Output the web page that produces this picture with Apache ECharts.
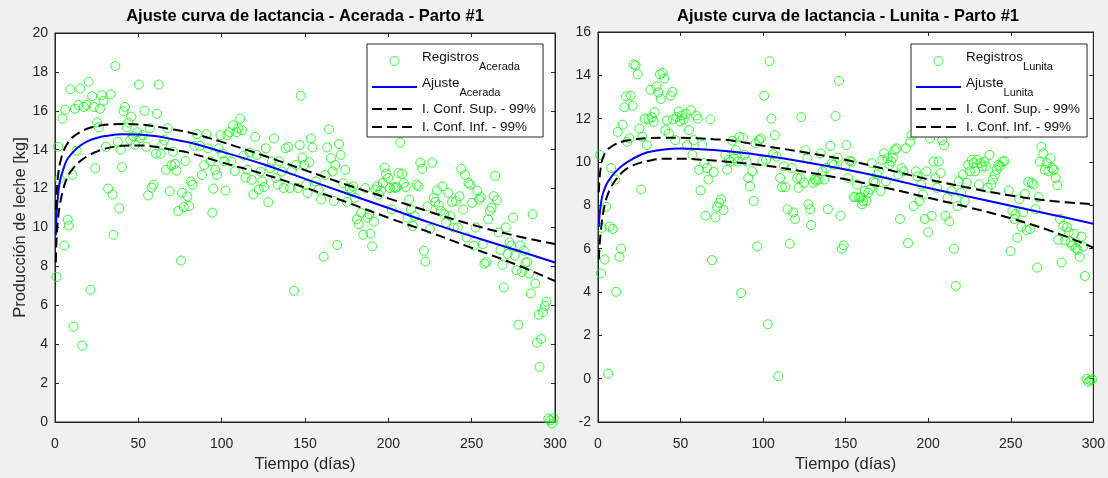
<!DOCTYPE html>
<html>
<head>
<meta charset="utf-8">
<script src="https://cdn.jsdelivr.net/npm/echarts@6/dist/echarts.min.js"></script>
<style>
html,body{margin:0;padding:0;background:#f0f0f0;}
#chart{width:1108px;height:478px;}
</style>
</head>
<body>
<div id="chart"></div>
<script>
// ---------------- DATA ----------------
const xTicks = [0, 50, 100, 150, 200, 250, 300];

const acDays = [0.9,1.9,2.8,4.5,5.6,6.2,7.7,8.3,9.2,10.5,11.1,12,13,14.1,15.2,16.3,17.3,19,20.1,21.2,22.3,23.3,24.2,25.3,26.3,27,28,29.1,30.6,31.9,33.4,34.5,35.1,36.2,37.7,38.5,39.4,40.2,41.1,42,43,44.1,45.2,45.8,46.9,48,49.4,50.3,51.2,52.7,53.7,54.8,55.9,57,58,59.1,60.6,61.2,62.3,63.4,64.4,65.5,66.6,67.6,68.9,69.8,70.8,71.9,72.9,74,75.6,76.2,77.3,78.3,79.4,80.5,81.5,82.6,83.7,85.2,86.9,88.2,89.5,90.8,91.8,93.3,94.4,95,96.1,97.2,98.2,99.3,100.4,101.5,102.3,103.4,104.7,105.7,106.8,107.9,109,110,111.1,112.2,113.2,114.3,115.4,116.9,118,119,120.1,121.1,122.2,123.3,124.4,125.4,126.5,128,129.1,130.1,131.4,132.5,133.6,134.6,136.1,137.2,138.3,140,141,142.1,143.4,144.7,145.8,146.8,147.5,148.5,149.6,150.7,151.5,152.6,153.5,154.5,156.5,158.2,159.7,161.2,162.2,163.3,164.4,165.5,166.5,167.4,168.2,169.3,170.4,171.4,172.9,174.2,175.3,176.8,177.9,178.9,180,181.1,182.2,183.6,184.9,186.2,187.5,188.6,189.2,190.3,191.4,192.2,193.3,194.3,195.6,196.7,197.8,198.6,199.9,201,202.1,203.1,204.2,205,206.1,207.2,208.3,209.3,210.4,211.5,212.5,213.6,214.7,215.8,217,218.1,219.2,220.3,221.3,222.2,223.5,225,226.3,227.3,228.2,229.2,230.3,231.4,232.5,233.5,234.6,235.9,237.2,238.2,239.3,240.6,241.7,242.7,243.8,244.9,246,247,248.1,249.1,250.2,251.3,252.4,253.4,254.5,255.5,256.6,257.7,258.8,259.8,260.9,261.9,263.1,264.1,265.2,266.3,267.3,268.4,269.3,270.5,271.6,272.7,273.7,274.8,275.9,276.9,278,279.1,280.2,281.3,282.3,283.4,284.5,285.5,286.6,288.1,289.2,290.2,290.7,291.7,292.8,293.9,294.9,296,297.1,298.2,299.2];
const acYield = [7.46,14.15,12.5,15.6,9.07,16.05,10.4,10.1,17.1,12.7,4.9,16.1,13.95,16.3,17.15,3.93,16.2,16.3,17.5,6.8,16.75,16.2,13.05,15.4,15.15,16.1,16.8,16.5,14.15,12.0,16.85,11.7,9.63,18.3,14.4,10.98,14.0,13.1,15.97,16.2,15.15,15.4,14.5,15.7,14.7,14.25,14.9,17.35,14.6,14.75,16.0,14.15,11.65,15.1,12.05,12.2,13.8,15.85,17.35,13.78,14.25,14.5,12.97,15.1,11.86,13.2,13.9,13.27,12.93,10.85,8.3,11.78,11.05,13.42,11.6,11.1,12.37,12.2,14.2,14.8,14.2,12.7,13.2,14.8,14.07,13.4,10.76,12.0,12.97,12.7,14.07,14.75,13.8,13.4,11.9,14.75,14.9,13.4,15.25,12.9,14.9,15.1,15.6,15.0,13.7,12.57,12.97,13.85,12.45,11.7,14.66,13.73,11.95,12.88,12.37,12.08,14.07,11.3,13.05,13.4,14.58,12.54,12.2,13.4,12.88,12.03,14.07,14.15,12.03,12.93,6.75,13.22,12.03,14.24,16.78,13.6,13.22,12.2,11.78,13.36,14.58,14.12,12.37,11.95,11.44,8.5,12.7,14.12,15.05,13.56,12.88,11.37,13.22,9.1,14.29,13.73,12.27,12.97,11.32,12.03,11.86,12.12,11.53,10.42,10.17,10.76,9.63,12.03,10.51,10.68,9.69,9.03,10.3,11.95,12.12,11.69,11.9,12.29,13.08,12.76,12.54,12.03,10.93,12.07,12.03,12.07,12.8,14.37,12.76,12.29,12.08,10.51,11.44,10.93,10.08,10.59,12.2,12.12,13.34,13.02,8.81,8.25,11.08,9.92,13.34,11.53,11.32,11.9,11.14,10.85,12.12,10.68,10.25,11.78,10.59,11.32,10.0,11.36,10.0,11.61,13.02,10.93,12.71,9.49,12.29,12.2,11.27,9.07,10.0,11.9,11.44,11.56,9.15,8.14,8.22,10.42,10.85,11.02,11.61,12.66,11.4,9.75,8.85,8.08,6.92,10.0,8.64,9.24,9.07,10.51,8.56,7.8,5.0,9.07,7.71,8.81,8.19,8.22,7.63,6.61,10.68,7.12,4.07,5.51,2.83,4.27,5.64,5.97,6.19,0.17,0.08,-0.08,0.2];

const luDays = [1.2,1.8,2.2,4,5,6.1,7,8,9,10.4,11,11.9,13,14,15,16,16.9,17.7,19,19.8,21,21.5,22.8,24,25.1,26.2,26.8,28.3,29.6,30.5,31.8,32.6,33.7,34.3,35.4,36.5,37.5,38,39.1,40.1,40.8,41.8,42.9,44,45.1,45.5,46.8,47.6,48.9,49.7,50.8,51.9,53.1,54,55.1,56.2,57.2,57.9,59.4,60.4,61.1,62.1,63.2,64.3,65.1,66,66.9,68.1,69,70.1,71.1,72.2,73.4,74.5,76,77.1,78.2,79.2,80.3,81.4,82.4,83.5,84.6,85.6,86.7,87.8,88.9,90,91,92.1,93.4,94.3,95.4,96.4,97.5,98.6,99.6,100.7,101.8,102.8,103.9,105,106,107.1,108.2,109.2,110.3,111.4,112.5,113.5,114.8,116.1,117.4,118.3,119.4,120.6,121.5,122.6,123.1,124.7,125.7,126.8,127.4,128.5,129.1,130.2,131.3,132.3,133.6,134.9,136,137,138.1,139.2,140.7,141.8,142.8,143.9,145.2,146,146.9,147.7,148.8,149.9,150.5,151.6,152.6,153.7,154.8,155.9,156.9,158,159.1,159.9,160.5,161.6,162.7,163.7,164.8,165.8,166.9,168,169,170.1,171.2,172.2,173.3,174.4,175.4,176.5,177.6,178.6,179.7,180.8,181.8,182.9,183.9,185,186.5,187.8,189.1,189.9,191.2,192.5,193.6,194.7,195.7,196.8,197.9,198.9,200,201.1,202.1,203.2,204.3,205.3,206.4,207.5,208.5,209.6,210.4,211.7,212.8,214.1,215.6,216.7,217.8,218.6,219.9,221,222.1,223.2,224.2,225.3,226.4,227.5,228.5,229.6,230.7,231.7,232.8,233.9,234.9,236,237.1,238.2,239.2,240.3,241.4,242.5,243.5,245,246.1,247.2,248.8,249.9,251,252.1,252.9,254,255.1,256.4,257.4,258.5,259.6,260.6,261.7,262.8,263.9,264.9,266,266.9,267.5,268.6,269.7,270.7,271.8,272.9,274,275,276.1,277.2,278.2,278.7,279.8,280.8,281.9,283,284,285.1,286.2,287.2,288.3,289.4,290.4,291.7,292.8,293.9,294.9,295.8,296.9,298,299.2];
const luYield = [10.33,4.86,6.96,5.5,7.93,0.23,7.02,9.72,6.91,9.19,4.01,11.39,5.62,6.0,11.72,12.53,13.03,10.93,11.09,13.06,12.6,14.5,14.46,14.05,11.54,8.73,11.16,12.0,10.78,11.97,13.33,12.07,11.85,12.3,13.49,13.21,14.05,12.91,14.12,13.85,11.47,11.92,11.31,13.06,13.24,11.97,11.01,12.07,12.33,11.88,12.15,11.97,12.23,10.78,11.47,12.38,10.33,11.01,12.15,12.0,9.64,8.69,10.78,9.95,7.52,9.72,9.19,11.97,5.47,9.54,7.44,7.93,8.12,8.28,7.78,10.33,9.64,10.1,10.02,10.98,10.17,10.55,10.02,11.16,3.95,11.12,10.33,10.02,9.26,8.88,9.57,8.2,10.86,6.1,11.01,11.09,10.05,13.06,10.1,2.51,14.65,12.0,10.36,11.24,10.25,0.11,9.26,8.84,9.8,8.84,7.82,6.23,9.72,7.67,7.37,9.26,8.81,9.26,12.07,9.04,10.55,10.17,8.05,7.82,7.09,9.04,9.19,9.14,9.19,10.4,9.57,9.19,9.72,7.82,10.74,9.95,9.87,12.12,10.2,13.74,7.52,6.0,6.15,9.84,10.78,9.26,10.05,10.02,8.38,8.38,8.96,8.35,8.38,8.05,8.2,8.66,8.2,8.58,8.73,9.95,9.11,9.04,9.42,9.57,8.66,10.1,10.4,9.11,10.17,9.87,10.02,10.2,10.55,10.63,9.42,7.37,9.72,9.57,10.63,6.26,10.93,11.24,7.97,9.57,9.34,8.2,8.96,8.5,7.37,9.57,6.76,11.09,7.52,10.02,9.26,8.81,10.02,9.49,11.01,10.78,7.52,8.35,7.26,8.66,6.0,4.28,7.97,9.11,8.58,9.42,8.2,9.04,9.87,9.57,10.1,9.95,9.57,10.1,8.96,9.95,9.8,10.02,9.8,8.81,10.33,8.96,9.19,9.42,9.64,9.87,9.8,10.02,10.05,11.31,8.69,5.89,7.74,7.37,7.59,6.5,8.28,7.02,7.67,8.53,6.86,9.08,6.91,9.04,8.96,7.82,5.13,8.38,10.02,10.71,10.4,9.64,9.95,9.57,10.17,9.72,9.64,9.26,8.93,6.41,7.37,5.36,7.06,6.38,6.99,6.76,6.3,6.15,6.68,6.04,5.95,5.62,6.56,6.1,4.74,0.0,-0.15,-0.08,-0.03];

// fitted curve and 99% bands at these days
const fitDays = [0.5,1,2,3,5,7,10,15,20,25,30,40,50,60,70,80,100,125,150,175,200,225,250,275,300];
const acFit   = [9.6,10.8,11.8,12.4,13.0,13.45,13.8,14.2,14.45,14.6,14.7,14.8,14.78,14.7,14.55,14.38,13.9,13.25,12.5,11.75,11.0,10.25,9.55,8.88,8.2];
const acUpper = [10.9,11.8,12.8,13.3,13.9,14.25,14.6,14.9,15.1,15.2,15.28,15.32,15.3,15.2,15.05,14.9,14.4,13.7,12.95,12.2,11.5,10.8,10.15,9.6,9.15];
const acLower = [8.2,9.5,10.6,11.2,12.0,12.5,12.95,13.4,13.7,13.9,14.05,14.2,14.22,14.15,14.0,13.85,13.35,12.75,12.05,11.3,10.5,9.75,8.95,8.15,7.25];
const luFit   = [7.0,7.6,8.2,8.55,8.95,9.2,9.5,9.85,10.1,10.3,10.45,10.58,10.62,10.6,10.55,10.48,10.3,10.0,9.65,9.25,8.8,8.4,7.98,7.57,7.15];
const luUpper = [8.6,9.3,9.9,10.2,10.5,10.65,10.8,10.95,11.02,11.07,11.1,11.12,11.12,11.1,11.05,11.0,10.75,10.45,10.1,9.65,9.2,8.8,8.45,8.2,8.05];
const luLower = [5.5,6.2,7.0,7.6,8.3,8.7,9.1,9.55,9.8,9.95,10.05,10.15,10.15,10.12,10.07,10.0,9.85,9.55,9.2,8.8,8.35,7.9,7.4,6.8,6.05];

const titles = ['Ajuste curva de lactancia - Acerada - Parto #1', 'Ajuste curva de lactancia - Lunita - Parto #1'];
const cows = ['Acerada', 'Lunita'];

// ---------------- CHART ----------------
const FONT = "'Liberation Sans', Arial, Helvetica, sans-serif";
const AX = '#262626';
const zip = (a, b) => a.map((v, i) => [v, b[i]]);

const grids = [
  {left: 55, top: 33, width: 500, height: 394},
  {left: 598, top: 32, width: 500, height: 395}
];

function xAx(gi, pos, name) {
  return {
    type: 'value', gridIndex: gi, position: pos, min: 0, max: 300, interval: 50,
    axisLine: {show: true, onZero: false, lineStyle: {color: AX, width: 1}},
    axisTick: {show: true, inside: true, length: 4, lineStyle: {color: AX}},
    axisLabel: {show: pos === 'bottom', color: AX, fontSize: 14, fontFamily: FONT, margin: 15},
    splitLine: {show: false},
    name: name || '', nameLocation: 'middle', nameGap: 34,
    nameTextStyle: {color: AX, fontSize: 16.5, fontFamily: FONT}
  };
}
function yAx(gi, pos, min, max, name) {
  return {
    type: 'value', gridIndex: gi, position: pos, min: min, max: max, interval: 2,
    axisLine: {show: true, onZero: false, lineStyle: {color: AX, width: 1}},
    axisTick: {show: true, inside: true, length: 4, lineStyle: {color: AX}},
    axisLabel: {show: pos === 'left', color: AX, fontSize: 14, fontFamily: FONT, margin: 7},
    splitLine: {show: false},
    name: name || '', nameLocation: 'middle', nameGap: 26, nameRotate: 90,
    nameTextStyle: {color: AX, fontSize: 16.5, fontFamily: FONT}
  };
}

const legendRich = {
  m: {fontSize: 13.5, fontFamily: FONT, color: '#111', padding: [0, 0, 8, 0]},
  s: {fontSize: 11, fontFamily: FONT, color: '#111', padding: [11, 0, 0, 0]},
  c: {fontSize: 13.5, fontFamily: FONT, color: '#111', lineHeight: 16}
};
function legendLabel(name) {
  const p = name.split('|');
  if (p[0] === 'Registros' || p[0] === 'Ajuste') return '{m|' + p[0] + '}{s|' + p[1] + '}';
  return '{c|' + p[0] + '}';
}
const noSymbol = {color: 'rgba(0,0,0,0)', borderWidth: 0, opacity: 0};
function legendFor(ci, left) {
  const c = cows[ci];
  return {
    orient: 'vertical', left: left, top: 44, padding: [6, 7, 3, 4],
    itemWidth: 45, itemHeight: 9, itemGap: 4,
    backgroundColor: '#fff', borderColor: AX, borderWidth: 1, borderRadius: 0,
    selectedMode: false,
    data: [
      {name: 'Registros|' + c, icon: 'circle', itemStyle: {color: 'rgba(0,0,0,0)', borderColor: '#00ff00', borderWidth: 1}},
      {name: 'Ajuste|' + c, itemStyle: noSymbol},
      {name: 'I. Conf. Sup. - 99%|' + c, itemStyle: noSymbol},
      {name: 'I. Conf. Inf. - 99%|' + c, itemStyle: noSymbol}
    ],
    formatter: legendLabel,
    textStyle: {rich: legendRich}
  };
}

function seriesFor(ci, days, vals, fd, fit, up, lo) {
  const c = cows[ci];
  const xi = ci * 2, yi = ci * 2;
  const line = (name, arr, style) => ({
    type: 'line', name: name + '|' + c, xAxisIndex: xi, yAxisIndex: yi,
    data: zip(fd, arr), showSymbol: false, symbol: 'none', smooth: 0.4,
    lineStyle: style, itemStyle: {color: style.color}, z: 3
  });
  return [
    {
      type: 'scatter', name: 'Registros|' + c, xAxisIndex: xi, yAxisIndex: yi,
      data: zip(days, vals), symbol: 'circle', symbolSize: 9, clip: false,
      itemStyle: {color: 'rgba(0,0,0,0)', borderColor: '#00ff00', borderWidth: 1}, z: 2
    },
    line('Ajuste', fit, {color: '#0000ff', width: 2, type: 'solid'}),
    line('I. Conf. Sup. - 99%', up, {color: '#000', width: 2, type: [10, 5]}),
    line('I. Conf. Inf. - 99%', lo, {color: '#000', width: 2, type: [10, 5]})
  ];
}

const chart = echarts.init(document.getElementById('chart'), null, {renderer: 'canvas'});
chart.setOption({
  animation: false,
  backgroundColor: '#f0f0f0',
  textStyle: {fontFamily: FONT},
  title: [
    {text: titles[0], left: 305, top: 8, padding: 0, textAlign: 'center',
     textStyle: {fontSize: 16.5, fontWeight: 'bold', color: '#000', fontFamily: FONT}},
    {text: titles[1], left: 848, top: 8, padding: 0, textAlign: 'center',
     textStyle: {fontSize: 16.5, fontWeight: 'bold', color: '#000', fontFamily: FONT}}
  ],
  grid: grids.map(g => Object.assign({show: true, backgroundColor: '#fff', borderColor: AX, borderWidth: 1}, g)),
  xAxis: [xAx(0, 'bottom', 'Tiempo (días)'), xAx(0, 'top'), xAx(1, 'bottom', 'Tiempo (días)'), xAx(1, 'top')],
  yAxis: [yAx(0, 'left', 0, 20, 'Producción de leche [kg]'), yAx(0, 'right', 0, 20), yAx(1, 'left', -2, 16), yAx(1, 'right', -2, 16)],
  legend: [legendFor(0, 367), legendFor(1, 911)],
  series: [].concat(
    seriesFor(0, acDays, acYield, fitDays, acFit, acUpper, acLower),
    seriesFor(1, luDays, luYield, fitDays, luFit, luUpper, luLower)
  )
});
</script>
</body>
</html>
